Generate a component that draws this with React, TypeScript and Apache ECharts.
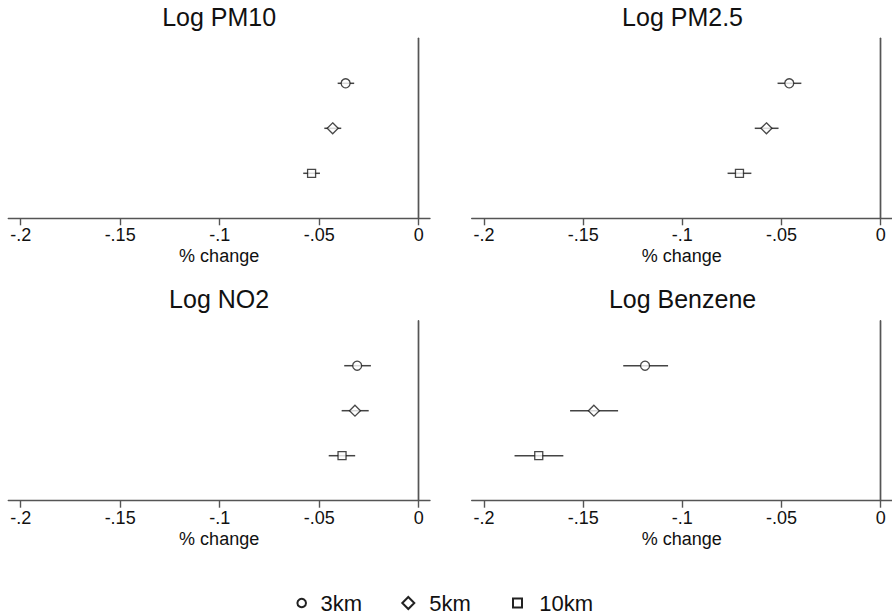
import React, { useEffect, useRef } from "react";
import * as echarts from "echarts";

const distances = ["3km", "5km", "10km"];
const yPositions = [3, 2, 1];
const panelTitles = ["Log PM10", "Log PM2.5", "Log NO2", "Log Benzene"];
const xTicks = [-0.2, -0.15, -0.1, -0.05, 0];

const pm10Est = [-0.0367, -0.0432, -0.0538];
const pm10Lo = [-0.0407, -0.0474, -0.058];
const pm10Hi = [-0.0324, -0.0389, -0.0496];

const pm25Est = [-0.0461, -0.0576, -0.0712];
const pm25Lo = [-0.052, -0.0635, -0.0772];
const pm25Hi = [-0.04, -0.0515, -0.0652];

const no2Est = [-0.0309, -0.032, -0.0385];
const no2Lo = [-0.0374, -0.0387, -0.0452];
const no2Hi = [-0.024, -0.0251, -0.0319];

const benzEst = [-0.1188, -0.1446, -0.1724];
const benzLo = [-0.1298, -0.1566, -0.1846];
const benzHi = [-0.1072, -0.1324, -0.16];

const panelData = [
  { est: pm10Est, lo: pm10Lo, hi: pm10Hi },
  { est: pm25Est, lo: pm25Lo, hi: pm25Hi },
  { est: no2Est, lo: no2Lo, hi: no2Hi },
  { est: benzEst, lo: benzLo, hi: benzHi },
];

const symbols = ["circle", "diamond", "rect"];
const symbolSizes = [9, 11, 8];

const FONT = "'Liberation Sans', Arial, sans-serif";
const AXIS_COLOR = "#555";

export default function App() {
  const ref = useRef<HTMLDivElement>(null);

  useEffect(() => {
    if (!ref.current) return;
    const chart = echarts.init(ref.current, null, { renderer: "svg" });

    const gridLefts = [8.3, 471.7, 8.3, 471.7];
    const gridTops = [38.3, 38.3, 320.7, 320.7];
    const gridW = 421.7;
    const gridH = 180;

    const grids = gridLefts.map((l, i) => ({
      left: l,
      top: gridTops[i],
      width: gridW,
      height: gridH,
      containLabel: false,
    }));

    const xAxes = grids.map((_, i) => ({
      type: "value",
      gridIndex: i,
      min: -0.2062,
      max: 0.0057,
      axisLine: { show: true, lineStyle: { color: AXIS_COLOR, width: 1.4 } },
      axisTick: {
        show: true,
        length: 7,
        customValues: xTicks,
        lineStyle: { color: AXIS_COLOR, width: 1.4 },
      },
      axisLabel: {
        show: true,
        customValues: xTicks,
        margin: 8,
        fontSize: 18,
        fontFamily: FONT,
        color: "#111",
        formatter: (v: number) =>
          v === 0 ? "0" : "-" + String(Math.abs(v)).replace(/^0/, ""),
      },
      splitLine: { show: false },
      name: "% change",
      nameLocation: "middle",
      nameGap: 29,
      nameTextStyle: { fontSize: 18, fontFamily: FONT, color: "#111" },
    }));

    const yAxes = grids.map((_, i) => ({
      type: "value",
      gridIndex: i,
      min: 0,
      max: 4,
      axisLine: { show: true, lineStyle: { color: AXIS_COLOR, width: 1.4 } },
      axisTick: { show: false },
      axisLabel: { show: false },
      splitLine: { show: false },
    }));

    const titles = panelTitles.map((t, i) => ({
      text: t,
      left: gridLefts[i] + gridW / 2,
      top: 4,
      textAlign: "center",
      padding: 0,
      textStyle: {
        fontSize: 25,
        fontWeight: "normal",
        fontFamily: FONT,
        color: "#111",
      },
      ...(i >= 2 ? { top: 286.5 } : {}),
    }));

    const series: any[] = [];
    panelData.forEach((p, pi) => {
      series.push({
        type: "custom",
        xAxisIndex: pi,
        yAxisIndex: pi,
        data: p.est.map((_, k) => [p.lo[k], p.hi[k], yPositions[k]]),
        encode: { x: [0, 1], y: 2 },
        renderItem: (params: any, api: any) => {
          const y = api.value(2);
          const a = api.coord([api.value(0), y]);
          const b = api.coord([api.value(1), y]);
          return {
            type: "line",
            shape: { x1: a[0], y1: a[1], x2: b[0], y2: b[1] },
            style: { stroke: "#444", lineWidth: 1.5 },
          };
        },
        markLine: {
          silent: true,
          symbol: ["none", "none"],
          label: { show: false },
          lineStyle: { color: AXIS_COLOR, width: 1.4, type: "solid" },
          data: [{ xAxis: 0 }],
        },
        z: 2,
      });
      distances.forEach((d, k) => {
        series.push({
          type: "scatter",
          name: d,
          xAxisIndex: pi,
          yAxisIndex: pi,
          symbol: symbols[k],
          symbolSize: symbolSizes[k],
          data: [[p.est[k], yPositions[k]]],
          itemStyle: {
            color: "#fff",
            borderColor: "#1a1a1a",
            borderWidth: 1.3,
          },
          z: 3,
        });
      });
    });

    const legendY = 603;
    const legendGraphic = [
      {
        type: "circle",
        shape: { cx: 301.7, cy: legendY, r: 4.3 },
        style: { fill: "#fff", stroke: "#222", lineWidth: 2 },
      },
      {
        type: "text",
        x: 320.5,
        y: legendY,
        style: {
          text: distances[0],
          fontSize: 22,
          fontFamily: FONT,
          fill: "#111",
          verticalAlign: "middle",
          align: "left",
        },
      },
      {
        type: "polygon",
        shape: {
          points: [
            [408.3, legendY - 6],
            [414.3, legendY],
            [408.3, legendY + 6],
            [402.3, legendY],
          ],
        },
        style: { fill: "#fff", stroke: "#222", lineWidth: 2 },
      },
      {
        type: "text",
        x: 429.3,
        y: legendY,
        style: {
          text: distances[1],
          fontSize: 22,
          fontFamily: FONT,
          fill: "#111",
          verticalAlign: "middle",
          align: "left",
        },
      },
      {
        type: "rect",
        shape: { x: 513, y: legendY - 4.5, width: 9, height: 9 },
        style: { fill: "#fff", stroke: "#222", lineWidth: 2 },
      },
      {
        type: "text",
        x: 539.3,
        y: legendY,
        style: {
          text: distances[2],
          fontSize: 22,
          fontFamily: FONT,
          fill: "#111",
          verticalAlign: "middle",
          align: "left",
        },
      },
    ];

    chart.setOption({
      animation: false,
      backgroundColor: "#fff",
      title: titles,
      grid: grids,
      xAxis: xAxes,
      yAxis: yAxes,
      series,
      graphic: legendGraphic,
    });

    return () => chart.dispose();
  }, []);

  return (
    <div
      ref={ref}
      style={{ position: "fixed", left: 0, top: 0, width: 892, height: 616 }}
    />
  );
}
